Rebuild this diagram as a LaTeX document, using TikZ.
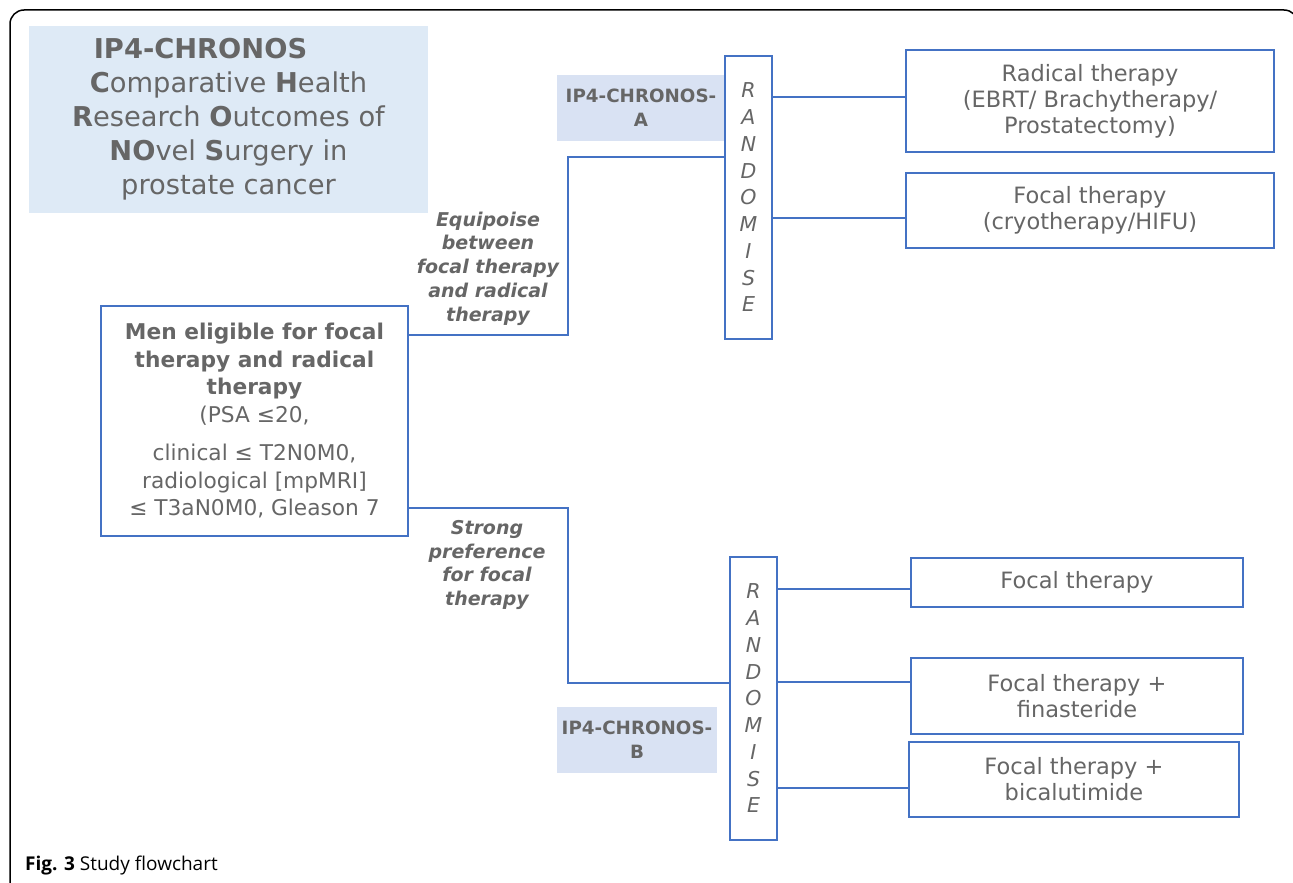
\documentclass[tikz,border=0pt]{standalone}
\usepackage{fontspec}
\setmainfont{DejaVu Sans}
\newfontfamily\capfont{Open Sans}
\usepackage{tikz}

\definecolor{txtgray}{HTML}{666666}
\definecolor{lineblue}{HTML}{4472C4}
\definecolor{ttlblue}{HTML}{DEEAF6}
\definecolor{armblue}{HTML}{D9E2F3}

\tikzset{
  ttlbox/.style={fill=ttlblue, text=txtgray, inner sep=0pt, align=center},
  armbox/.style={fill=armblue, text=txtgray, inner sep=0pt, align=center,
    font=\bfseries\fontsize{18.3}{24}\selectfont},
  randbox/.style={draw=lineblue, line width=2pt, fill=white, text=txtgray,
    inner sep=0pt, minimum width=47pt, minimum height=283pt, align=center,
    font=\itshape\fontsize{20.5}{26.75}\selectfont},
  outbox/.style={draw=lineblue, line width=2pt, text=txtgray, inner sep=0pt,
    align=center, font=\fontsize{22.5}{26}\selectfont},
  armtext/.style={text=txtgray, align=center,
    font=\bfseries\itshape\fontsize{19}{23.7}\selectfont},
  link/.style={draw=lineblue, line width=2.8pt},
}

\begin{document}
\begin{tikzpicture}[x=1pt,y=-1pt]
\useasboundingbox (0,0) rectangle (1293,883);
\draw[line width=1.5pt, rounded corners=14pt] (10,900) -- (10,10) -- (1298,10) -- (1298,900);

\node[ttlbox, minimum width=399pt, minimum height=187pt, font=\fontsize{27.3}{34}\selectfont] (title) at (228.5,119.5)
  {\textbf{IP4-CHRONOS}\hspace*{56pt}\\\textbf{C}omparative \textbf{H}ealth\\\textbf{R}esearch \textbf{O}utcomes of\\\textbf{NO}vel \textbf{S}urgery in\\prostate cancer};

\node[outbox, minimum width=307pt, minimum height=230pt, font=\fontsize{21.7}{27.5}\selectfont] (men) at (254.5,421)
  {\textbf{Men eligible for focal}\\\textbf{therapy and radical}\\\textbf{therapy}\\(PSA ≤20,\\[11pt]clinical ≤ T2N0M0,\\radiological [mpMRI]\\≤ T3aN0M0, Gleason 7};

\node[armtext] (equip) at (488,268.5) {Equipoise\\between\\focal therapy\\and radical\\therapy};
\node[armtext] (pref) at (487,565) {Strong\\preference\\for focal\\therapy};

% arm A
\node[armbox, minimum width=168pt, minimum height=66pt] (armA) at (641,108) {IP4-CHRONOS-\\A};
\node[randbox] (randA) at (748.5,197.5) {R\\A\\N\\D\\O\\M\\I\\S\\E};
\node[outbox, minimum width=368pt, minimum height=102pt] (radA) at (1090,101)
  {Radical therapy\\(EBRT/ Brachytherapy/\\Prostatectomy)};
\node[outbox, minimum width=368pt, minimum height=75pt] (focA) at (1090,210.5)
  {Focal therapy\\(cryotherapy/HIFU)};

% arm B
\node[randbox] (randB) at (753.5,698.5) {R\\A\\N\\D\\O\\M\\I\\S\\E};
\node[armbox, minimum width=160pt, minimum height=66pt] (armB) at (637,740) {IP4-CHRONOS-\\B};
\node[outbox, minimum width=332pt, minimum height=49pt] (focB) at (1077,582.5) {Focal therapy};
\node[outbox, minimum width=332pt, minimum height=76pt] (finB) at (1077,696)
  {Focal therapy +\\finasteride};
\node[outbox, minimum width=330pt, minimum height=75pt] (bicB) at (1074,779.5)
  {Focal therapy +\\bicalutimide};

% connectors
\coordinate (radAin) at ([yshift=4pt]radA.west);
\coordinate (focAin) at ([yshift=-7.5pt]focA.west);
\coordinate (focBin) at ([yshift=-6.5pt]focB.west);
\coordinate (finBin) at ([yshift=14pt]finB.west);
\coordinate (bicBin) at ([yshift=-8.5pt]bicB.west);

\draw[link] ([yshift=-30pt]men.north east) -- ++(159,0) |- ([yshift=-102pt]randA.north west);
\draw[link] ([yshift=29pt]men.south east) -- ++(159,0) |- ([yshift=-127pt]randB.north west);

\draw[link] (radAin -| randA.east) -- (radAin);
\draw[link] (focAin -| randA.east) -- (focAin);
\draw[link] (focBin -| randB.east) -- (focBin);
\draw[link] (finBin -| randB.east) -- (finBin);
\draw[link] (bicBin -| randB.east) -- (bicBin);

\node[anchor=west, inner sep=0pt] (cap) at (25,866)
  {\capfont\fontsize{19}{22}\selectfont\textbf{Fig. 3} Study flowchart};
\end{tikzpicture}
\end{document}
